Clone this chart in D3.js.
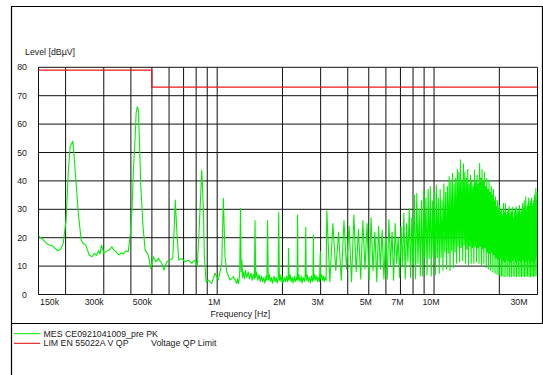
<!DOCTYPE html>
<html>
<head>
<meta charset="utf-8">
<script src="https://cdn.jsdelivr.net/npm/d3@7/dist/d3.min.js"></script>
<style>
  body { margin: 0; background: #fff; }
  text { font-family: "Liberation Sans", Arial, sans-serif; fill: #222; }
</style>
</head>
<body>
<script>
// values, frequencies in MHz, levels in dBuV
var measLow = [
    [0.150,20.6],[0.157,19.4],[0.165,17.7],[0.174,17.1],[0.184,15.4],[0.190,15.9],[0.195,18.0],
    [0.201,26.2],[0.206,43.8],[0.210,52.0],[0.216,54.0],[0.219,48.5],[0.223,40.3],[0.229,28.6],
    [0.236,19.2],[0.240,18.2],[0.248,17.4],[0.257,13.9],[0.265,13.3],[0.271,14.5],[0.278,13.8],
    [0.284,15.4],[0.288,14.3],[0.293,17.4],[0.300,14.5],[0.307,15.1],[0.318,15.7],[0.327,16.8],
    [0.333,15.7],[0.342,15.1],[0.352,13.9],[0.360,14.7],[0.369,14.3],[0.380,15.4],[0.389,15.1],
    [0.398,21.5],[0.405,30.0],[0.411,44.0],[0.418,54.4],[0.423,63.9],[0.428,66.1],[0.433,65.0],
    [0.438,54.4],[0.444,39.0],[0.454,25.0],[0.465,15.7],[0.481,13.9],[0.494,9.2],[0.508,13.3],
    [0.522,11.5],[0.535,12.7],[0.555,11.0],[0.569,8.6],[0.585,11.5],[0.606,12.1],[0.624,12.7],
    [0.633,22.7],[0.641,33.3],[0.651,22.7],[0.665,12.1],[0.686,12.7],[0.711,11.5],[0.736,12.1],
    [0.763,11.0],[0.791,12.1],[0.810,9.8],[0.828,25.0],[0.849,43.8],[0.863,30.9],[0.873,13.3],
    [0.889,4.5],[0.911,5.1],[0.944,3.9],[0.978,7.5],[1.013,5.1],[1.050,11.0],[1.068,33.9],
    [1.087,13.3],[1.107,8.0],[1.147,5.1],[1.188,6.3],[1.231,3.9]
];

var measMid = [
    [1.24,5.5],[1.255,3.8],[1.27,7],[1.281,30.3],[1.29,8],[1.30,12],[1.31,6],[1.32,8],[1.335,5.5],[1.35,8.5],
    [1.37,6],[1.39,8],[1.41,5.5],[1.43,7.5],[1.45,5],[1.47,7],[1.485,5.5],[1.495,26],[1.505,6],[1.52,8],
    [1.54,5],[1.56,7],[1.58,4.5],[1.60,6.5],[1.62,4.5],[1.64,6],[1.66,4],[1.68,6.5],[1.695,5],[1.708,26],
    [1.72,5],[1.74,7],[1.76,4.5],[1.78,6],[1.80,4],[1.83,6.5],[1.85,4.5],[1.87,6],[1.89,4],[1.91,5.5],
    [1.922,28.9],[1.935,5],[1.95,7],[1.97,4.5],[1.99,6.5],[2.01,4],[2.04,6],[2.06,4.5],[2.09,6.5],[2.11,4.5],
    [2.125,6],[2.135,16.3],[2.145,5],[2.17,7],[2.19,4.5],[2.22,6],[2.24,4],[2.27,6.5],[2.29,4.5],[2.32,6],
    [2.337,5],[2.349,28],[2.36,5],[2.38,7],[2.41,4.5],[2.44,6.5],[2.46,4],[2.49,6],[2.52,4.5],[2.545,6.5],
    [2.562,23.7],[2.575,5],[2.60,7],[2.63,4.5],[2.66,6],[2.69,4],[2.72,6.5],[2.745,4.5],[2.765,6],[2.776,21],
    [2.79,5],[2.82,7],[2.85,5],[2.88,6.5],[2.91,4.5],[2.94,6],[2.965,4.5],[2.989,15.1],[3.00,5.5],[3.03,7],
    [3.06,5],[3.09,6.5],[3.12,4.5],[3.15,6],[3.18,5]
];

// harmonic spikes above 3 MHz
var spikes = [
    [3.203,29.5],[3.416,25],[3.630,22],[3.843,26],[4.057,24],[4.270,28],[4.484,23],[4.697,26],[4.911,25],[5.124,27],
    [5.338,22],[5.551,24],[5.765,22.7],[5.978,20],[6.192,26.4],[6.405,22],[6.619,25],[6.832,20],[7.046,24],[7.259,28.6],
    [7.473,25],[7.686,30.3],[7.900,27],[8.113,35],[8.327,35.6],[8.540,30],[8.754,33],[8.967,36.8],[9.181,34],[9.394,37],
    [9.608,38],[9.821,33],[10.035,36],[10.248,38.5],[10.462,34],[10.675,37],[10.889,33],[11.102,39],[11.316,36],[11.529,38],
    [11.743,41.5],[11.956,40],[12.170,42.7],[12.383,39],[12.597,41],[12.810,44],[13.024,43],[13.237,47.4],[13.451,40],[13.664,46],
    [13.878,43],[14.091,41],[14.305,44],[14.518,39],[14.732,42],[14.945,40],[15.159,38],[15.372,43.8],[15.586,40],[15.799,42],
    [16.013,39],[16.226,46.2],[16.440,41],[16.653,44],[16.867,40],[17.080,43],[17.294,38],[17.507,40.9],[17.721,37],[17.934,40],
    [18.148,36],[18.361,38],[18.575,35],[18.788,37],[19.002,33],[19.215,34.4],[19.429,31],[19.642,33],[19.856,30],[20.069,31.4],
    [20.283,29],[20.496,30],[20.710,28],[20.923,32],[21.137,29],[21.350,31.9],[21.564,28],[21.777,29],[21.991,30],[22.204,31],
    [22.418,28],[22.631,30],[22.845,29],[23.058,30.7],[23.272,27],[23.485,29],[23.699,30],[23.912,31],[24.126,28],[24.339,30],
    [24.553,29],[24.766,31.3],[24.980,28],[25.193,30],[25.407,29],[25.620,32],[25.834,30],[26.047,33],[26.261,31],[26.474,34.4],
    [26.688,30],[26.901,31],[27.115,32],[27.328,34],[27.542,31],[27.755,33],[27.969,32],[28.182,34],[28.396,31],[28.609,32],
    [28.823,33],[29.036,35],[29.250,34],[29.463,37.4],[29.677,33],[29.890,36]
];

// noise floor between the spikes
var floorNoise = [
    [3.309,4.5],[3.523,8.5],[3.736,5],[3.950,9],[4.163,4.5],[4.377,8],[4.590,5.5],[4.804,9],[5.017,5],[5.231,8.5],
    [5.444,4.5],[5.658,9],[5.871,5.5],[6.085,5.5],[6.298,10.5],[6.512,5],[6.725,11],[6.939,6],[7.152,10],[7.366,5.5],
    [7.579,11.5],[7.793,6],[8.006,10.5],[8.220,5.5],[8.433,11],[8.647,6.5],[8.860,6.5],[9.074,13],[9.287,7],[9.501,12.5],
    [9.714,6.5],[9.928,13.5],[10.141,7],[10.355,13],[10.568,7.5],[10.782,13],[10.995,8.5],[11.209,15],[11.422,9],[11.636,14.5],
    [11.849,8.5],[12.063,15.5],[12.276,9.5],[12.490,15],[12.703,11],[12.917,17],[13.130,11.5],[13.344,16.5],[13.557,12],[13.771,17.5],
    [13.984,11],[14.198,16],[14.411,10.5],[14.625,17],[14.838,11],[15.052,16.5],[15.265,11],[15.479,17],[15.692,11.5],[15.906,16.5],
    [16.119,11],[16.333,17],[16.546,10.5],[16.760,16],[16.973,11],[17.187,16.5],[17.400,9.5],[17.614,15],[17.827,9],[18.041,14.5],
    [18.254,8.5],[18.468,15],[18.681,8],[18.895,14],[19.108,7.5],[19.322,13],[19.535,7],[19.749,12.5],[19.962,7],[20.176,13],
    [20.389,6.5],[20.603,6.5],[20.816,12],[21.030,6.3],[21.243,11.5],[21.457,6.3],[21.670,12.5],[21.884,6.5],[22.097,12],[22.311,6.3],
    [22.524,11.5],[22.738,6.3],[22.951,12],[23.165,6.5],[23.378,12.5],[23.592,6.3],[23.805,11.5],[24.019,6.3],[24.232,12],[24.446,6.5],
    [24.659,12],[24.873,6.3],[25.086,11.5],[25.300,6.3],[25.513,12.5],[25.727,6.5],[25.940,12],[26.154,6.3],[26.367,11.5],[26.581,6.3],
    [26.794,12],[27.008,6.5],[27.221,12.5],[27.435,6.3],[27.648,11.5],[27.862,6.3],[28.075,12],[28.289,6.5],[28.502,12],[28.716,6.3],
    [28.929,11.5],[29.143,6.5],[29.356,12.5],[29.570,6.5],[29.783,13]
];

// EN 55022 class A QP limit
var limitSteps = [[0.15,79],[0.5,79],[0.5,73],[30,73]];

var yTicks = [0,10,20,30,40,50,60,70,80];
var xGrid = [0.15,0.2,0.3,0.4,0.5,0.6,0.7,0.8,0.9,1,2,3,4,5,6,7,8,9,10,20,30];
var xTickValues = [0.15,0.3,0.5,1,2,3,5,7,10,30];
var xTickText = ["150k","300k","500k","1M","2M","3M","5M","7M","10M","30M"];

var legendRows = [
    { color: "#00e600", text: "MES  CE0921041009_pre PK", extra: "" },
    { color: "#e60000", text: "LIM  EN 55022A V QP", extra: "Voltage QP Limit" }
];

var width = 543, height = 375;
var plot = { left: 38.5, right: 537.5, top: 67.3, bottom: 294.5 };
var fontSize = "8.8px";

var svg = d3.select("body").append("svg")
    .attr("width", width)
    .attr("height", height);

svg.append("rect").attr("width", width).attr("height", height).attr("fill", "#fff");

var x = d3.scaleLog().domain([0.15, 30]).range([plot.left, plot.right]);
var y = d3.scaleLinear().domain([0, 80]).range([plot.bottom, plot.top]);

// outer frame
svg.append("path")
    .attr("d", "M11.5,380V6.5H542.5V323.5M11.5,323.5H542.5")
    .attr("fill", "none")
    .attr("stroke", "#000")
    .attr("stroke-width", 1.2);

// grid
svg.selectAll("line.vg")
    .data(xGrid)
    .enter().append("line")
    .attr("class", "vg")
    .attr("x1", function (d) { return x(d); })
    .attr("x2", function (d) { return x(d); })
    .attr("y1", plot.top)
    .attr("y2", plot.bottom)
    .attr("stroke", "#111")
    .attr("stroke-width", 1);

svg.selectAll("line.hg")
    .data(yTicks)
    .enter().append("line")
    .attr("class", "hg")
    .attr("x1", plot.left)
    .attr("x2", plot.right)
    .attr("y1", function (d) { return y(d); })
    .attr("y2", function (d) { return y(d); })
    .attr("stroke", "#111")
    .attr("stroke-width", 1);

// y labels
svg.selectAll("text.yl")
    .data(yTicks)
    .enter().append("text")
    .attr("class", "yl")
    .attr("x", 27)
    .attr("y", function (d) { return y(d); })
    .attr("dy", "0.35em")
    .attr("text-anchor", "end")
    .attr("font-size", fontSize)
    .text(function (d) { return d; });

svg.append("text")
    .attr("x", 25)
    .attr("y", 54.5)
    .attr("font-size", fontSize)
    .text("Level [dBµV]");

// x labels
svg.selectAll("text.xl")
    .data(xTickValues)
    .enter().append("text")
    .attr("class", "xl")
    .attr("x", function (d, i) {
        if (i == 0) return x(d) + 1.5;
        if (d == 30) return x(d) - 10;
        if (d < 1) return x(d);
        return x(d) - 3;
    })
    .attr("y", 305)
    .attr("font-size", fontSize)
    .attr("text-anchor", function (d, i) {
        if (i == 0) return "start";
        if (d == 30 || d < 1) return "end";
        return "middle";
    })
    .text(function (d, i) { return xTickText[i]; });

svg.append("text")
    .attr("x", 210.5)
    .attr("y", 316.5)
    .attr("font-size", fontSize)
    .text("Frequency [Hz]");

// traces
svg.append("clipPath").attr("id", "clip")
    .append("rect")
    .attr("x", plot.left).attr("y", plot.top)
    .attr("width", plot.right - plot.left).attr("height", plot.bottom - plot.top);

var line = d3.line()
    .x(function (d) { return x(d[0]); })
    .y(function (d) { return y(d[1]); });

var highBand = spikes.concat(floorNoise).sort(function (a, b) { return a[0] - b[0]; });

svg.append("path")
    .datum(measLow.concat(measMid, highBand))
    .attr("clip-path", "url(#clip)")
    .attr("d", line)
    .attr("fill", "none")
    .attr("stroke", "#00f000")
    .attr("stroke-width", 1.1)
    .attr("stroke-linejoin", "round");

svg.append("path")
    .datum(limitSteps)
    .attr("d", line)
    .attr("fill", "none")
    .attr("stroke", "#f01818")
    .attr("stroke-width", 1.2);

// legend
var legend = svg.selectAll("g.leg")
    .data(legendRows)
    .enter().append("g")
    .attr("class", "leg")
    .attr("transform", function (d, i) { return "translate(0," + (333.7 + i * 9.6) + ")"; });

legend.append("line")
    .attr("x1", 14).attr("x2", 40)
    .attr("stroke", function (d) { return d.color; })
    .attr("stroke-width", 1);

legend.append("text")
    .attr("x", 43.5)
    .attr("dy", "0.35em")
    .attr("font-size", fontSize)
    .text(function (d) { return d.text; });

legend.append("text")
    .attr("x", 151)
    .attr("dy", "0.35em")
    .attr("font-size", fontSize)
    .text(function (d) { return d.extra; });
</script>
</body>
</html>
